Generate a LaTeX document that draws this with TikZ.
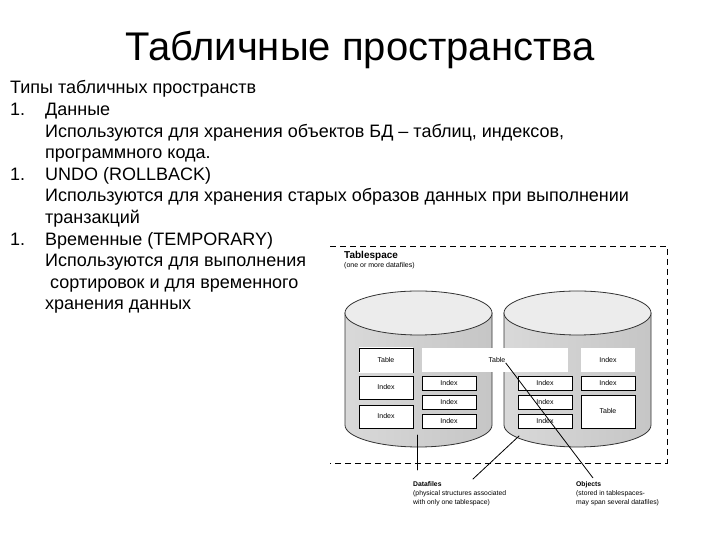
\documentclass[tikz,border=0pt]{standalone}
\usepackage{fontspec}
\setmainfont{Liberation Sans}
\usepackage{tkz-euclide}
\usetikzlibrary{calc}

\tikzset{
  objbox/.style={draw, fill=white, line width=0.7pt, inner sep=0pt,
    font=\fontsize{7}{8}\selectfont},
  plainbox/.style={objbox, draw=none},
  note/.style={align=left, inner sep=0pt, anchor=north west,
    font=\fontsize{6.8}{9}\selectfont},
}

% one datafile: #1 = centre x
\newcommand{\datafilecyl}[1]{%
  \shade[draw=black!80, line width=0.8pt, left color=gray!30, middle color=white, right color=gray!45]
    (#1-73.5,227) -- (#1-73.5,115) arc (180:360:73.5 and 22) -- (#1+73.5,227) -- cycle;
  \draw[black!80, line width=0.8pt, fill=gray!15] (#1,227) ellipse (73.5 and 22);
}

\begin{document}
\begin{tikzpicture}[x=1pt, y=1pt]
  \useasboundingbox (0,0) rectangle (720,540);

  \node[anchor=base, font=\fontsize{40}{44}\selectfont] (title) at (360,479) {Табличные пространства};

  \node[anchor=base west, inner sep=0pt, font=\fontsize{18}{21.6}\selectfont] (types) at (10,446)
  {\begin{tabular}[t]{@{}p{35pt}@{}l@{}}
    \multicolumn{2}{@{}l@{}}{Типы табличных пространств}\\
    1. & Данные\\
       & Используются для хранения объектов БД – таблиц, индексов,\\
       & программного кода.\\
    1. & UNDO (ROLLBACK)\\
       & Используются для хранения старых образов данных при выполнении\\
       & транзакций\\
    1. & Временные (TEMPORARY)\\
       & Используются для выполнения\\
       & \ сортировок и для временного\\
       & хранения данных
  \end{tabular}};

  % tablespace frame
  \draw[line width=0.9pt, dash pattern=on 6pt off 4pt] (330,294) -- (667,294) -- (667,77) -- (330,77);
  \node[anchor=west, inner sep=0pt, font=\bfseries\fontsize{10}{11}\selectfont] (ts) at (344,284) {Tablespace};
  \node[anchor=west, inner sep=0pt, font=\fontsize{7}{8}\selectfont] (tsnote) at (344,274) {(one or more datafiles)};

  \datafilecyl{418.5}
  \datafilecyl{577.5}

  % objects
  \foreach \n/\cx/\cy/\w/\h/\t in {
      lt/386/180/54/24/Table, li1/386/152.5/54/23/Index, li2/386/123.5/54/23/Index,
      ma/449/157/54/14/Index, mb/449/138/54/14/Index, mc/449/119/54/14/Index,
      na/545/157/54/14/Index, nb/545/138/54/14/Index, nc/545/119/54/14/Index,
      ri1/608/157/54/14/Index, rt/608/128.5/54/33/Table}
    \node[objbox, minimum width=\w pt, minimum height=\h pt] (\n) at (\cx,\cy) {\t};
  \node[plainbox, minimum width=146pt, minimum height=24pt] (tb) at (495,180) {};
  \node[plainbox, font=\fontsize{7}{8}\selectfont] (tbl) at (497,180) {Table};
  \node[plainbox, minimum width=54pt, minimum height=24pt] (ri0) at (608,180) {Index};
  \draw[white, line width=1pt] (lt.north west) -- (lt.north east) (lt.south west) -- (lt.south east);

  % pointers
  \tkzDefPoint(417,105){D1}
  \tkzDefPoint(417,70){D2}
  \tkzDefPoint(519,104){D3}
  \tkzDefPoint(473,61){D4}
  \tkzDefPoint(593,62){O1}
  \tkzDrawSegment[line width=0.8pt](D1,D2)
  \tkzDrawSegment[line width=0.8pt](D3,D4)
  \draw[line width=0.8pt] (tbl.south east) -- (O1);

  \node[note] (dfnote) at (413,59) {\textbf{Datafiles}\\(physical structures associated\\with only one tablespace)};
  \node[note] (objnote) at (576,59) {\textbf{Objects}\\(stored in tablespaces-\\may span several datafiles)};
\end{tikzpicture}
\end{document}
